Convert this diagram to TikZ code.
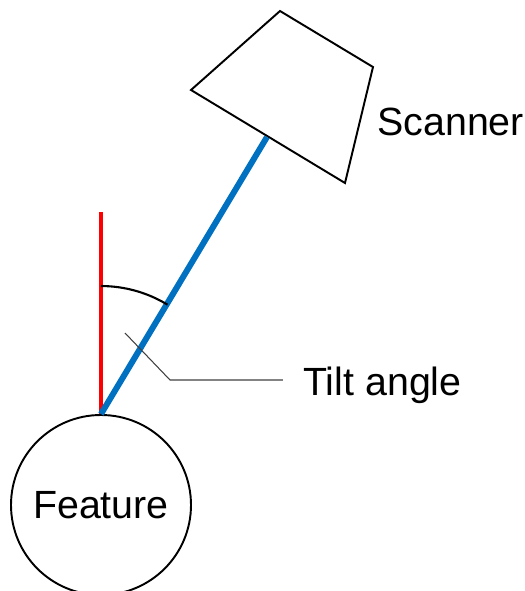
\documentclass[tikz,border=0pt]{standalone}
\usepackage{fontspec}
\setmainfont{Liberation Sans}
\usepackage{xcolor}
\definecolor{beamblue}{HTML}{0070C0}
\definecolor{normalred}{HTML}{FF0000}
\definecolor{leadergray}{HTML}{404040}

\begin{document}
\begin{tikzpicture}[font=\fontsize{22.4}{26}\selectfont]
			\useasboundingbox (0,0) rectangle (10.5,11.82);
			\node[circle,draw,line width=1.1pt,minimum size=3.6cm,inner sep=0pt] (feat) at (2.02,1.72) {Feature};
			\coordinate (s1) at (5.6,11.6);
			\coordinate (s2) at (7.46,10.48);
			\coordinate (s3) at (6.9,8.16);
			\coordinate (s4) at (3.82,10.02);
			\coordinate (hit) at (5.34,9.08);
			\coordinate (ntop) at (2.02,7.58);
			\coordinate (lead) at (2.5,5.16);
			\coordinate (bend) at (3.4,4.22);
			\node[anchor=base west,inner sep=0pt] (scan) at (7.54,9.12) {Scanner};
			\node[anchor=base west,inner sep=0pt] (tilt) at (6.06,3.92) {Tilt angle};
			\coordinate (tiltend) at (5.66,4.22);
			\draw[line width=1.1pt,line join=miter] (s1) -- (s2) -- (s3) -- (s4) -- cycle;
			\draw[normalred,line width=2.8pt] (feat.north) -- (ntop);
			\draw[beamblue,line width=3.4pt] (feat.north) -- (hit);
			\draw[line width=1.2pt] ([shift={(90:2.56)}]feat.north) arc[start angle=90,end angle=58.7,radius=2.56];
			\draw[leadergray,line width=0.6pt] (lead) -- (bend) -- (tiltend);
		\end{tikzpicture}
\end{document}
